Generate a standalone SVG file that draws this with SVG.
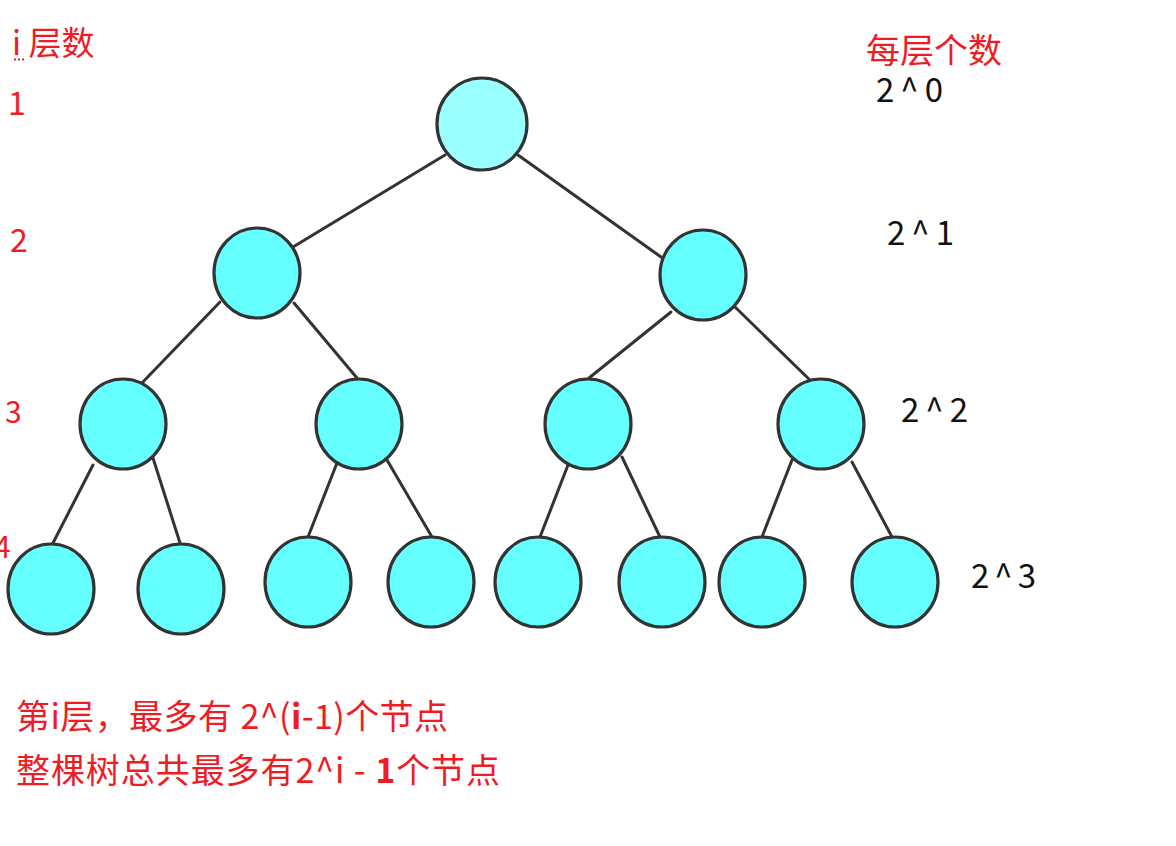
<svg xmlns="http://www.w3.org/2000/svg" width="1176" height="846" viewBox="0 0 1176 846">
<style>
.e{stroke:#333;stroke-width:3;stroke-linecap:round;fill:none}
.n{fill:#66ffff;stroke:#333;stroke-width:3.2}
.r{fill:#99ffff}
.t{font-family:"Noto Sans CJK SC","Noto Sans",sans-serif}
.red{fill:#ee1c25}
.blk{fill:#111}
</style>
<rect width="1176" height="846" fill="#fff"/>
<g id="connectors">
<line class="e" x1="445" y1="155" x2="293" y2="247"/>
<line class="e" x1="518" y1="155" x2="661" y2="257"/>
<line class="e" x1="220" y1="302" x2="140" y2="385"/>
<line class="e" x1="294" y1="303" x2="357" y2="378"/>
<line class="e" x1="671" y1="312" x2="589" y2="378"/>
<line class="e" x1="735" y1="307" x2="812" y2="382"/>
<line class="e" x1="93" y1="465" x2="53" y2="543"/>
<line class="e" x1="153" y1="458" x2="180" y2="543"/>
<line class="e" x1="337" y1="463" x2="308" y2="537"/>
<line class="e" x1="387" y1="460" x2="432" y2="537"/>
<line class="e" x1="568" y1="465" x2="540" y2="537"/>
<line class="e" x1="622" y1="457" x2="660" y2="537"/>
<line class="e" x1="792" y1="460" x2="762" y2="537"/>
<line class="e" x1="852" y1="462" x2="892" y2="537"/>
</g>
<g id="root"><ellipse class="n r" cx="482" cy="124" rx="45" ry="46"/></g>
<g id="n2a"><ellipse class="n" cx="257" cy="273" rx="43" ry="45"/></g>
<g id="n2b"><ellipse class="n" cx="703" cy="275" rx="43" ry="45"/></g>
<g id="n3a"><ellipse class="n" cx="123" cy="424" rx="43" ry="45"/></g>
<g id="n3b"><ellipse class="n" cx="359" cy="424" rx="43" ry="45"/></g>
<g id="n3c"><ellipse class="n" cx="588" cy="424" rx="43" ry="45"/></g>
<g id="n3d"><ellipse class="n" cx="821" cy="424" rx="43" ry="45"/></g>
<g id="l1"><ellipse class="n" cx="51" cy="589" rx="43" ry="45"/></g>
<g id="l2"><ellipse class="n" cx="181" cy="589" rx="43" ry="45"/></g>
<g id="l3"><ellipse class="n" cx="308" cy="582" rx="43" ry="45"/></g>
<g id="l4"><ellipse class="n" cx="431" cy="582" rx="43" ry="45"/></g>
<g id="l5"><ellipse class="n" cx="538" cy="582" rx="43" ry="45"/></g>
<g id="l6"><ellipse class="n" cx="662" cy="582" rx="43" ry="45"/></g>
<g id="l7"><ellipse class="n" cx="762" cy="582" rx="43" ry="45"/></g>
<g id="l8"><ellipse class="n" cx="895" cy="582" rx="43" ry="45"/></g>
<g id="labels">
<text class="t red" x="12" y="55" font-size="33">i 层数</text>
<line x1="14" y1="59.5" x2="24" y2="59.5" stroke="#ee1c25" stroke-width="2" stroke-dasharray="2,2"/>
<text class="t red" x="8" y="115" font-size="32">1</text>
<text class="t red" x="10" y="252" font-size="32">2</text>
<text class="t red" x="5" y="423" font-size="30">3</text>
<text class="t red" x="-6" y="558" font-size="30">4</text>
<text class="t red" x="866" y="63" font-size="34">每层个数</text>
<text class="t blk" x="876" y="102" font-size="33" textLength="67">2^0</text>
<text class="t blk" x="887" y="245" font-size="33" textLength="67">2^1</text>
<text class="t blk" x="901" y="422" font-size="33" textLength="67">2^2</text>
<text class="t blk" x="971" y="588" font-size="33" textLength="65">2^3</text>
<text class="t red" x="16" y="729" font-size="34" textLength="432">第i层，最多有 2^(<tspan font-weight="bold">i</tspan>-1)个节点</text>
<text class="t red" x="16" y="783" font-size="34" textLength="484">整棵树总共最多有2^i - <tspan font-weight="bold">1</tspan>个节点</text>
</g>
</svg>
